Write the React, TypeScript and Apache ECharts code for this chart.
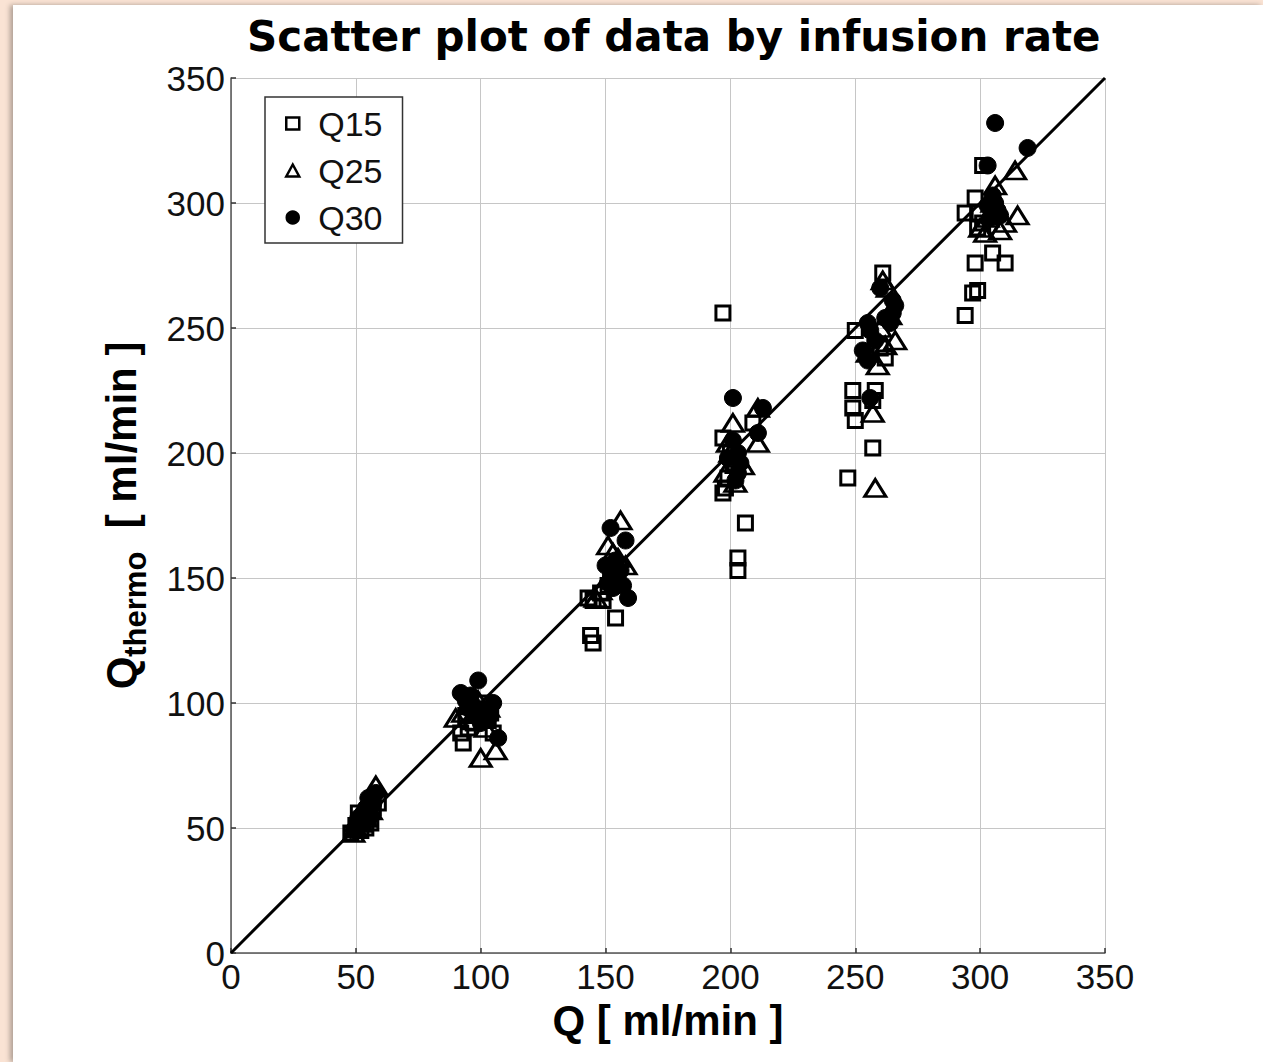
import React, { useEffect, useRef } from "react";
import * as echarts from "echarts";

const titleText = "Scatter plot of data by infusion rate";
const xName = "Q [ ml/min ]";
const seriesNames = ["Q15", "Q25", "Q30"];
const axisMin = 0;
const axisMax = 350;
const axisStep = 50;

// Q15 (open squares): [Q, Qthermo]
const q15: number[][] = [
  [48, 48], [50, 51], [52, 49], [53, 53], [55, 55], [51, 56], [57, 58], [59, 60], [54, 50], [56, 52],
  [93, 84], [92, 88], [95, 90], [97, 92], [100, 95], [103, 93], [105, 88], [99, 97], [94, 95], [101, 100], [104, 96],
  [143, 142], [145, 141], [149, 141], [144, 127], [145, 124], [154, 134], [151, 147], [148, 144], [152, 150],
  [197, 256], [197, 206], [197, 184], [198, 186], [200, 200], [209, 212], [206, 172], [203, 158], [203, 153], [201, 195], [199, 190],
  [250, 249], [261, 272], [262, 238], [249, 225], [258, 225], [249, 218], [250, 213], [257, 202], [247, 190], [257, 221], [260, 242],
  [301, 315], [298, 302], [294, 296], [299, 296], [299, 290], [305, 280], [310, 276], [298, 276], [299, 265], [297, 264], [294, 255], [301, 292],
];

// Q25 (open triangles)
const q25: number[][] = [
  [50, 50], [52, 52], [54, 54], [56, 57], [58, 67], [55, 61], [49, 48], [53, 55], [51, 53],
  [90, 94], [93, 96], [96, 99], [100, 78], [106, 81], [99, 101], [103, 98], [97, 93], [102, 90],
  [156, 173], [151, 163], [155, 158], [148, 145], [152, 150], [158, 155], [153, 160], [146, 142],
  [201, 212], [211, 218], [211, 204], [199, 204], [203, 198], [205, 195], [200, 200], [198, 192], [202, 188],
  [263, 266], [261, 269], [266, 245], [257, 216], [258, 186], [259, 235], [262, 243], [255, 240], [260, 250], [264, 255],
  [314, 313], [306, 307], [315, 295], [308, 289], [302, 288], [305, 300], [303, 294], [310, 292], [300, 290],
];

// Q30 (filled circles)
const q30: number[][] = [
  [52, 52], [55, 62], [57, 60], [53, 56], [50, 50], [58, 64], [54, 58], [51, 54], [56, 55], [49, 49],
  [99, 109], [92, 104], [105, 100], [95, 98], [107, 86], [98, 95], [101, 97], [96, 103], [103, 94], [94, 101], [100, 92], [97, 99],
  [152, 170], [158, 165], [150, 155], [153, 152], [155, 149], [157, 147], [159, 142], [154, 157], [151, 148], [156, 153], [153, 146],
  [201, 222], [213, 218], [211, 208], [202, 189], [203, 200], [201, 205], [204, 196], [199, 198], [203, 192],
  [260, 266], [265, 261], [265, 256], [264, 252], [255, 252], [256, 249], [253, 241], [255, 237], [256, 222], [258, 245], [262, 254], [266, 259],
  [306, 332], [319, 322], [303, 315], [305, 303], [307, 297], [304, 294], [306, 300], [308, 295], [303, 299],
];

const identityLine: number[][] = [
  [0, 0],
  [350, 350],
];

export default function App() {
  const ref = useRef<HTMLDivElement>(null);

  useEffect(() => {
    if (!ref.current) return;
    const chart = echarts.init(ref.current, null, { renderer: "svg" });
    const tickFont = {
      fontFamily: "Liberation Sans",
      fontSize: 35,
      color: "#111",
    };
    const axisCommon = {
      type: "value",
      min: axisMin,
      max: axisMax,
      interval: axisStep,
      axisLine: { show: true, lineStyle: { color: "#555", width: 1.5 } },
      axisTick: { show: true, inside: true, length: 5, lineStyle: { color: "#333", width: 1.5 } },
      splitLine: { show: true, lineStyle: { color: "#c6c6c6", width: 1 } },
    };
    chart.setOption({
      animation: false,
      backgroundColor: "transparent",
      title: {
        text: titleText,
        left: 242,
        top: 10,
        textStyle: {
          fontFamily: "DejaVu Sans",
          fontWeight: "bold",
          fontSize: 42,
          color: "#000",
        },
      },
      grid: { left: 231, right: 158, top: 78, bottom: 109, containLabel: false },
      legend: {
        data: seriesNames,
        orient: "vertical",
        left: 265,
        top: 97,
        padding: [8, 20, 7, 20],
        itemGap: 10,
        itemWidth: 13,
        itemHeight: 12,
        backgroundColor: "#fff",
        borderColor: "#333",
        borderWidth: 1.5,
        borderRadius: 0,
        itemStyle: { borderWidth: 2.5 },
        textStyle: {
          fontFamily: "Liberation Sans",
          fontSize: 34,
          lineHeight: 37,
          color: "#111",
          padding: [0, 0, 0, 14],
        },
      },
      xAxis: {
        ...axisCommon,
        axisLabel: { ...tickFont, margin: 6 },
        name: xName,
        nameLocation: "middle",
        nameGap: 46,
        nameTextStyle: {
          fontFamily: "Liberation Sans",
          fontWeight: "bold",
          fontSize: 42,
          color: "#000",
        },
      },
      yAxis: {
        ...axisCommon,
        axisLabel: { ...tickFont, margin: 6 },
        name: "{q|Q}{s|thermo}{u|  [ ml/min ]}",
        nameLocation: "middle",
        nameRotate: 90,
        nameGap: 80,
        nameTextStyle: {
          rich: {
            q: {
              fontFamily: "Liberation Sans",
              fontWeight: "bold",
              fontSize: 42,
              lineHeight: 60,
              verticalAlign: "middle",
              color: "#000",
            },
            s: {
              fontFamily: "Liberation Sans",
              fontWeight: "bold",
              fontSize: 31,
              lineHeight: 60,
              verticalAlign: "bottom",
              color: "#000",
            },
            u: {
              fontFamily: "Liberation Sans",
              fontWeight: "bold",
              fontSize: 42,
              lineHeight: 60,
              verticalAlign: "middle",
              color: "#000",
            },
          },
        },
      },
      series: [
        {
          name: "identity",
          type: "line",
          data: identityLine,
          showSymbol: false,
          symbol: "none",
          lineStyle: { color: "#000", width: 3 },
          z: 1,
          silent: true,
        },
        {
          name: "Q15",
          type: "scatter",
          data: q15,
          symbol: "rect",
          symbolSize: 14,
          itemStyle: { color: "rgba(255,255,255,0)", borderColor: "#000", borderWidth: 3, opacity: 1 },
          z: 2,
        },
        {
          name: "Q25",
          type: "scatter",
          data: q25,
          symbol: "triangle",
          symbolSize: [21, 17],
          itemStyle: { color: "rgba(255,255,255,0)", borderColor: "#000", borderWidth: 3, opacity: 1 },
          z: 3,
        },
        {
          name: "Q30",
          type: "scatter",
          data: q30,
          symbol: "circle",
          symbolSize: 17,
          itemStyle: { color: "#000", borderColor: "#000", borderWidth: 1, opacity: 1 },
          z: 4,
        },
      ],
    });
    return () => chart.dispose();
  }, []);

  return (
    <div
      style={{
        position: "fixed",
        left: 0,
        top: 0,
        width: 1263,
        height: 1062,
        background: "#fae3d4",
        overflow: "hidden",
      }}
    >
      <div
        style={{
          position: "absolute",
          left: 13,
          top: 5,
          width: 1250,
          height: 1057,
          background: "#fff",
          boxShadow: "-3px 0 5px rgba(0,0,0,0.3)",
        }}
      />
      <div
        ref={ref}
        style={{ position: "absolute", left: 0, top: 0, width: 1263, height: 1062 }}
      />
    </div>
  );
}
